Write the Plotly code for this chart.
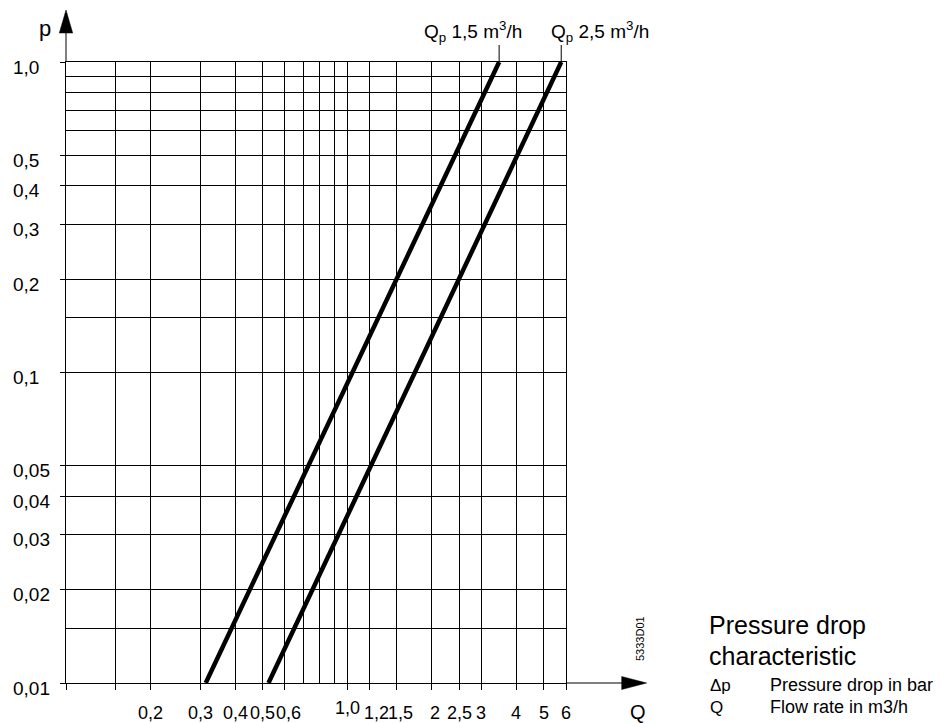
import math
import plotly.graph_objects as go

# ---------------- data ----------------
p_points = [0.01, 0.1, 1.0]          # pressure drop, bar
q_qp15 = [0.314, 1.04, 3.47]         # flow for Qp 1,5 m3/h
q_qp25 = [0.525, 1.74, 5.77]         # flow for Qp 2,5 m3/h
series_labels = ["Q<sub>p</sub> 1,5 m<sup>3</sup>/h", "Q<sub>p</sub> 2,5 m<sup>3</sup>/h"]

x_major = [0.1, 0.15, 0.2, 0.3, 0.4, 0.5, 0.6, 1.0, 1.2, 1.5, 2, 2.5, 3, 4, 5, 6]
x_minor = [0.7, 0.8, 0.9]
x_label_vals = [0.2, 0.3, 0.4, 0.5, 0.6, 1.0, 1.2, 1.5, 2, 2.5, 3, 4, 5, 6]
x_label_text = ["0,2", "0,3", "0,4", "0,5", "0,6", "1,0", "1,2", "1,5", "2", "2,5", "3", "4", "5", "6"]

y_major = [0.01, 0.02, 0.03, 0.04, 0.05, 0.1, 0.2, 0.3, 0.4, 0.5, 1.0]
y_minor = [0.015, 0.15, 0.6, 0.7, 0.8, 0.9]
y_label_text = ["0,01", "0,02", "0,03", "0,04", "0,05", "0,1", "0,2", "0,3", "0,4", "0,5", "1,0"]

# ---------------- geometry ----------------
OFF = 8                      # page body margin of the html page
W, H = 952 - OFF, 723 - OFF
L, T = 66 - OFF, 62 - OFF
R = W - (566 - OFF)
B = H - (683 - OFF)
PW, PH = W - L - R, H - T - B
FONT = "Liberation Sans, Arial, sans-serif"

# small horizontal nudges of individual x labels (pixels)
x_label_nudge = {"0,6": 4, "1,2": 7, "1,5": 4, "2": 3}


def px(x):
    """reference-picture pixel x -> paper coordinate"""
    return (x - OFF - L) / PW


def py(y):
    """reference-picture pixel y -> paper coordinate"""
    return (H - B - (y - OFF)) / PH


fig = go.Figure()
for q in (q_qp15, q_qp25):
    fig.add_trace(go.Scatter(x=q, y=p_points, mode="lines",
                             line=dict(color="black", width=4.5),
                             showlegend=False, hoverinfo="skip"))

axis_common = dict(type="log", showline=True, mirror=True, linecolor="black", linewidth=1,
                   showgrid=True, gridcolor="black", gridwidth=1, zeroline=False,
                   ticks="outside", tickcolor="black", tickwidth=1, showticklabels=False,
                   tickmode="array")
fig.update_xaxes(range=[math.log10(0.1), math.log10(6)], tickvals=x_major, ticklen=6,
                 minor=dict(tickmode="array", tickvals=x_minor, showgrid=True,
                            gridcolor="black", gridwidth=1, ticks=""),
                 **axis_common)
fig.update_yaxes(range=[math.log10(0.01), math.log10(1.0)], tickvals=y_major, ticklen=5,
                 minor=dict(tickmode="array", tickvals=y_minor, showgrid=True,
                            gridcolor="black", gridwidth=1, ticks=""),
                 **axis_common)

shapes = []
# axis extensions + arrow heads
shapes.append(dict(type="line", xref="paper", yref="paper", x0=0, x1=0, y0=1, y1=py(30),
                   line=dict(color="black", width=1)))
shapes.append(dict(type="path", xref="paper", yref="paper",
                   path=f"M {px(66)} {py(10)} L {px(59.3)} {py(33)} L {px(72.7)} {py(33)} Z",
                   fillcolor="black", line=dict(color="black", width=0.5)))
shapes.append(dict(type="line", xref="paper", yref="paper", x0=1, x1=px(625), y0=0, y1=0,
                   line=dict(color="black", width=1)))
shapes.append(dict(type="path", xref="paper", yref="paper",
                   path=f"M {px(646.7)} {py(683)} L {px(621.7)} {py(676.5)} L {px(621.7)} {py(689.5)} Z",
                   fillcolor="black", line=dict(color="black", width=0.5)))
# leader lines from curve ends to labels
for q in (q_qp15, q_qp25):
    shapes.append(dict(type="line", xref="x", yref="paper", x0=q[-1], x1=q[-1],
                       y0=1, y1=py(45), line=dict(color="black", width=1)))

ann = []
# x tick labels
for v, t in zip(x_label_vals, x_label_text):
    ann.append(dict(x=math.log10(v), y=py(713), xref="x", yref="paper", text=t,
                    showarrow=False, xanchor="center", yanchor="middle",
                    xshift=x_label_nudge.get(t, 0),
                    yshift=5 if t == "1,0" else 0,
                    font=dict(family=FONT, size=18, color="black")))
# y tick labels (left aligned)
for v, t in zip(y_major, y_label_text):
    ann.append(dict(x=px(10.5), y=math.log10(v), xref="paper", yref="y", text=t,
                    showarrow=False, xanchor="left", yanchor="middle", yshift=-5,
                    font=dict(family=FONT, size=19, color="black")))
# curve labels
for xc, t in zip((473, 599.5), series_labels):
    ann.append(dict(x=px(xc), y=py(31), xref="paper", yref="paper", text=t,
                    showarrow=False, xanchor="center", yanchor="middle",
                    font=dict(family=FONT, size=19, color="black")))
# axis names
ann.append(dict(x=px(45), y=py(29), xref="paper", yref="paper", text="p", showarrow=False,
                xanchor="center", yanchor="middle", font=dict(family=FONT, size=22, color="black")))
ann.append(dict(x=px(637.5), y=py(712), xref="paper", yref="paper", text="Q", showarrow=False,
                xanchor="center", yanchor="middle", font=dict(family=FONT, size=20, color="black")))
# drawing code
ann.append(dict(x=px(640), y=py(639), xref="paper", yref="paper", text="5333D01", showarrow=False,
                textangle=-90, xanchor="center", yanchor="middle",
                font=dict(family=FONT, size=11, color="black")))
# caption
ann.append(dict(x=px(707), y=py(625), xref="paper", yref="paper", text="Pressure drop",
                showarrow=False, xanchor="left", yanchor="middle",
                font=dict(family=FONT, size=25, color="black")))
ann.append(dict(x=px(707), y=py(656), xref="paper", yref="paper", text="characteristic",
                showarrow=False, xanchor="left", yanchor="middle",
                font=dict(family=FONT, size=25, color="black")))
for yv, sym, desc in ((685, "Δp", "Pressure drop in bar"), (707, "Q", "Flow rate in m3/h")):
    ann.append(dict(x=px(708), y=py(yv), xref="paper", yref="paper", text=sym,
                    showarrow=False, xanchor="left", yanchor="middle",
                    font=dict(family=FONT, size=17, color="black")))
    ann.append(dict(x=px(768), y=py(yv), xref="paper", yref="paper", text=desc,
                    showarrow=False, xanchor="left", yanchor="middle",
                    font=dict(family=FONT, size=18, color="black")))

fig.update_layout(width=W, height=H, autosize=False,
                  margin=dict(l=L, r=R, t=T, b=B, autoexpand=False),
                  paper_bgcolor="white", plot_bgcolor="white",
                  shapes=shapes, annotations=ann, showlegend=False)

fig.write_html("out.html")
